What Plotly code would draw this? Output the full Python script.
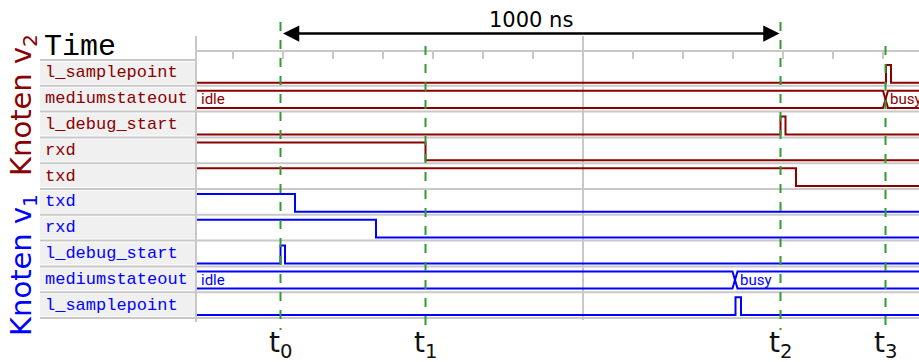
import plotly.graph_objects as go

# ---------------- data ----------------
view_ns = [228, 1672]            # visible time window (ns)
minor_tick_step_ns = 100
major_tick_ns = [1000]

marker_labels = ["t<sub>0</sub>", "t<sub>1</sub>", "t<sub>2</sub>", "t<sub>3</sub>"]
marker_ns = [395, 685, 1395, 1605]
marker_tall = [True, False, True, False]
span_label = "1000 ns"
span_from_ns = 395
span_to_ns = 1395

group_names = ["Knoten v<sub>2</sub>", "Knoten v<sub>1</sub>"]
group_colors = ["#8b0000", "#0000ff"]

row_names = ["l_samplepoint", "mediumstateout", "l_debug_start", "rxd", "txd",
             "txd", "rxd", "l_debug_start", "mediumstateout", "l_samplepoint"]
row_group = [0, 0, 0, 0, 0, 1, 1, 1, 1, 1]
row_kind = ["bit", "bus", "bit", "bit", "bit", "bit", "bit", "bit", "bus", "bit"]
row_times = [
    [228, 1606, 1616],
    [228, 1605],
    [228, 1395, 1405],
    [228, 685],
    [228, 1426],
    [228, 424],
    [228, 586],
    [228, 395, 404],
    [228, 1304],
    [228, 1305, 1316],
]
row_values = [
    [0, 1, 0],
    ["idle", "busy"],
    [0, 1, 0],
    [1, 0],
    [1, 0],
    [1, 0],
    [1, 0],
    [0, 1, 0],
    ["idle", "busy"],
    [0, 1, 0],
]

# ---------------- layout constants ----------------
W, H = 919, 362
ROW_TOP_PX = 60.0
PITCH = 25.8
LOW_OFF = 0.884
HIGH_OFF = 0.194
BUS_BOT_OFF = 0.86
X_HALF = 5  # ns half width of bus transition


def ypx(p):
    return (p - ROW_TOP_PX) / PITCH


def xp(p):
    return p / W


def level(k, v):
    return k + LOW_OFF - v * (LOW_OFF - HIGH_OFF)


GREY = "#c8c8c8"
GREEN = "#339933"
LABEL_FONT = "Liberation Mono, Courier New, monospace"
SANS = "DejaVu Sans, sans-serif"
NARROW = "Liberation Sans Narrow, Roboto, sans-serif"

fig = go.Figure()
shapes = []
annotations = []

end_ns = view_ns[1]

for k, (name, grp, kind, ts, vs) in enumerate(zip(row_names, row_group, row_kind, row_times, row_values)):
    col = group_colors[grp]
    shapes.append(dict(type="rect", xref="paper", yref="y", x0=xp(40), x1=xp(195),
                       y0=k + 0.07, y1=k + 0.93, fillcolor="#f0f0f0", line_width=0, layer="below"))
    shapes.append(dict(type="line", xref="paper", yref="y", x0=xp(40), x1=1, y0=k + 1, y1=k + 1,
                       line=dict(color=GREY, width=2), layer="below"))
    annotations.append(dict(text=name, xref="paper", yref="y", x=xp(43), y=k + 0.5,
                            xanchor="left", yanchor="middle", showarrow=False,
                            font=dict(family=LABEL_FONT, size=17, color=col)))
    if kind == "bit":
        xs = list(ts) + [end_ns]
        ys = [level(k, v) for v in vs] + [level(k, vs[-1])]
        fig.add_trace(go.Scatter(x=xs, y=ys, mode="lines", line=dict(color=col, width=2, shape="hv"),
                                 hoverinfo="skip"))
    else:
        top = k + HIGH_OFF
        bot = k + BUS_BOT_OFF
        ax_, ay_ = [ts[0]], [top]
        bx_, by_ = [ts[0]], [bot]
        a_level, b_level = top, bot
        for c in ts[1:]:
            ax_ += [c - X_HALF, c + X_HALF]
            ay_ += [a_level, b_level]
            bx_ += [c - X_HALF, c + X_HALF]
            by_ += [b_level, a_level]
            a_level, b_level = b_level, a_level
        ax_.append(end_ns); ay_.append(a_level)
        bx_.append(end_ns); by_.append(b_level)
        for xx, yy in ((ax_, ay_), (bx_, by_)):
            fig.add_trace(go.Scatter(x=xx, y=yy, mode="lines", line=dict(color=col, width=2),
                                     hoverinfo="skip"))
        for i, (c, s) in enumerate(zip(ts, vs)):
            xpos = c + 3 if i == 0 else c + X_HALF
            annotations.append(dict(text=s, xref="x", yref="y", x=xpos, y=(top + bot) / 2,
                                    xanchor="left", yanchor="middle", showarrow=False,
                                    font=dict(family=NARROW, size=15, color=col)))

shapes.append(dict(type="line", xref="paper", yref="y", x0=xp(40), x1=xp(195), y0=0, y1=0,
                   line=dict(color=GREY, width=2), layer="below"))
shapes.append(dict(type="line", xref="paper", yref="y", x0=xp(196), x1=xp(196),
                   y0=ypx(36), y1=ypx(322), line=dict(color=GREY, width=2), layer="below"))
for t in major_tick_ns:
    shapes.append(dict(type="line", xref="x", yref="y", x0=t, x1=t, y0=ypx(36), y1=ypx(320),
                       line=dict(color=GREY, width=2), layer="below"))

for lab, t, tall in zip(marker_labels, marker_ns, marker_tall):
    shapes.append(dict(type="line", xref="x", yref="y", x0=t, x1=t,
                       y0=ypx(22 if tall else 46), y1=ypx(330),
                       line=dict(color=GREEN, width=2, dash="dash"), layer="above"))
    annotations.append(dict(text=lab, xref="x", yref="y", x=t, y=ypx(344.5),
                            xanchor="center", yanchor="middle", showarrow=False,
                            font=dict(family=SANS, size=28, color="#111111")))

annotations.append(dict(text="", xref="x", yref="y", axref="x", ayref="y",
                        x=span_to_ns, y=ypx(33.5), ax=span_from_ns, ay=ypx(33.5),
                        showarrow=True, arrowhead=2, arrowside="end+start", arrowsize=1.3,
                        arrowwidth=2.5, arrowcolor="black", standoff=1, startstandoff=1))
annotations.append(dict(text=span_label, xref="x", yref="y", x=(span_from_ns + span_to_ns) / 2,
                        y=ypx(20), xanchor="center", yanchor="middle", showarrow=False,
                        font=dict(family=SANS, size=21, color="black")))

annotations.append(dict(text="Time", xref="paper", yref="y", x=xp(42), y=ypx(47),
                        xanchor="left", yanchor="middle", showarrow=False,
                        font=dict(family=LABEL_FONT, size=30, color="black")))

group_center_px = [105, 265]
for gname, gcol, cpx in zip(group_names, group_colors, group_center_px):
    annotations.append(dict(text=gname, xref="paper", yref="y", x=xp(23), y=ypx(cpx),
                            xanchor="center", yanchor="middle", textangle=-90, showarrow=False,
                            font=dict(family=SANS, size=29, color=gcol)))

fig.update_layout(
    width=W, height=H,
    margin=dict(l=0, r=0, t=0, b=0),
    paper_bgcolor="white", plot_bgcolor="rgba(0,0,0,0)",
    showlegend=False,
    xaxis=dict(domain=[xp(197), 1], range=view_ns, side="top", anchor="free",
               position=1 - 51 / H, showline=True, linecolor=GREY, linewidth=2,
               ticks="inside", ticklen=7, tickcolor=GREY, tickwidth=2,
               tick0=0, dtick=minor_tick_step_ns, showticklabels=False,
               showgrid=False, zeroline=False, fixedrange=True),
    yaxis=dict(domain=[0, 1], range=[ypx(H), ypx(0)], visible=False, fixedrange=True),
    shapes=shapes,
    annotations=annotations,
)

fig.write_html(
    "out.html",
    config={"displayModeBar": False},
    post_script="document.body.style.margin='0';document.body.style.overflow='hidden';",
)
